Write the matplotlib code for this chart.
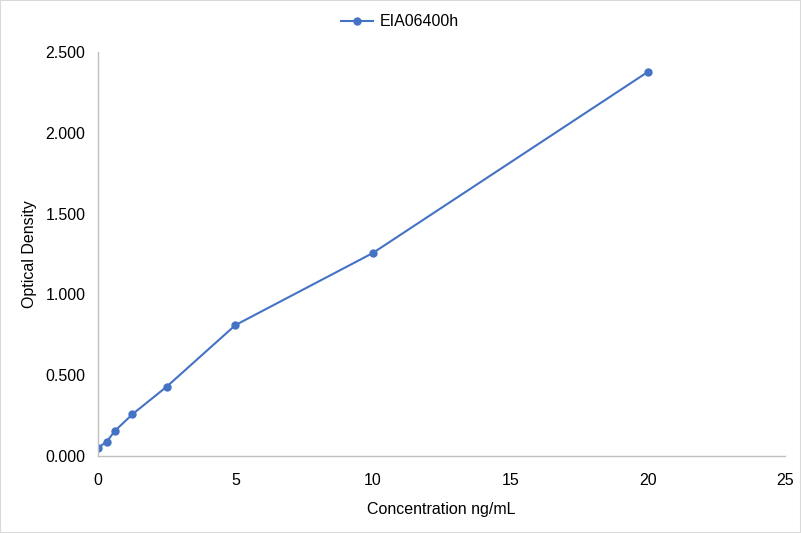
import matplotlib
matplotlib.use("Agg")
import matplotlib.pyplot as plt

conc = [0, 0.3125, 0.625, 1.25, 2.5, 5, 10, 20]
od = [0.051, 0.088, 0.157, 0.258, 0.429, 0.810, 1.256, 2.376]
series_name = "EIA06400h"
yticks = [0, 0.5, 1.0, 1.5, 2.0, 2.5]
xticks = [0, 5, 10, 15, 20, 25]

plt.rcParams['font.family'] = ['Liberation Sans', 'DejaVu Sans']
W, H = 801, 533
fig = plt.figure(figsize=(W/100, H/100), dpi=100)
ax = fig.add_axes([98/W, (H-456)/H, (785-98)/W, (456-52)/H])
color = '#4472C4'
ax.plot(conc, od, color=color, lw=1.5, marker='o', ms=5, label=series_name)
ax.set_xlim(0, 25)
ax.set_ylim(0, 2.5)
ax.set_xticks(xticks)
ax.set_yticks(yticks)
ax.set_yticklabels([f"{v:.3f}" for v in yticks])
ax.tick_params(axis='y', length=0, labelsize=11.5, colors='#000000', pad=9)
ax.tick_params(axis='x', length=0, labelsize=11.5, colors='#000000', pad=12)
for s in ['top', 'right']:
    ax.spines[s].set_visible(False)
for s in ['left', 'bottom']:
    ax.spines[s].set_color('#BFBFBF')
    ax.spines[s].set_linewidth(1)
ax.set_xlabel("Concentration ng/mL", fontsize=11.5, labelpad=10)
ax.set_ylabel("Optical Density", fontsize=11.5, labelpad=6)
fig.legend(loc='center', bbox_to_anchor=(400/W, 1-22/H), frameon=False, fontsize=11.5,
           handlelength=2, handletextpad=0.4)
fig.patches.append(matplotlib.patches.Rectangle((0, 0), 1, 1, transform=fig.transFigure,
                   fill=False, edgecolor='#D9D9D9', lw=1.5))
fig.savefig("out.png", dpi=100)
